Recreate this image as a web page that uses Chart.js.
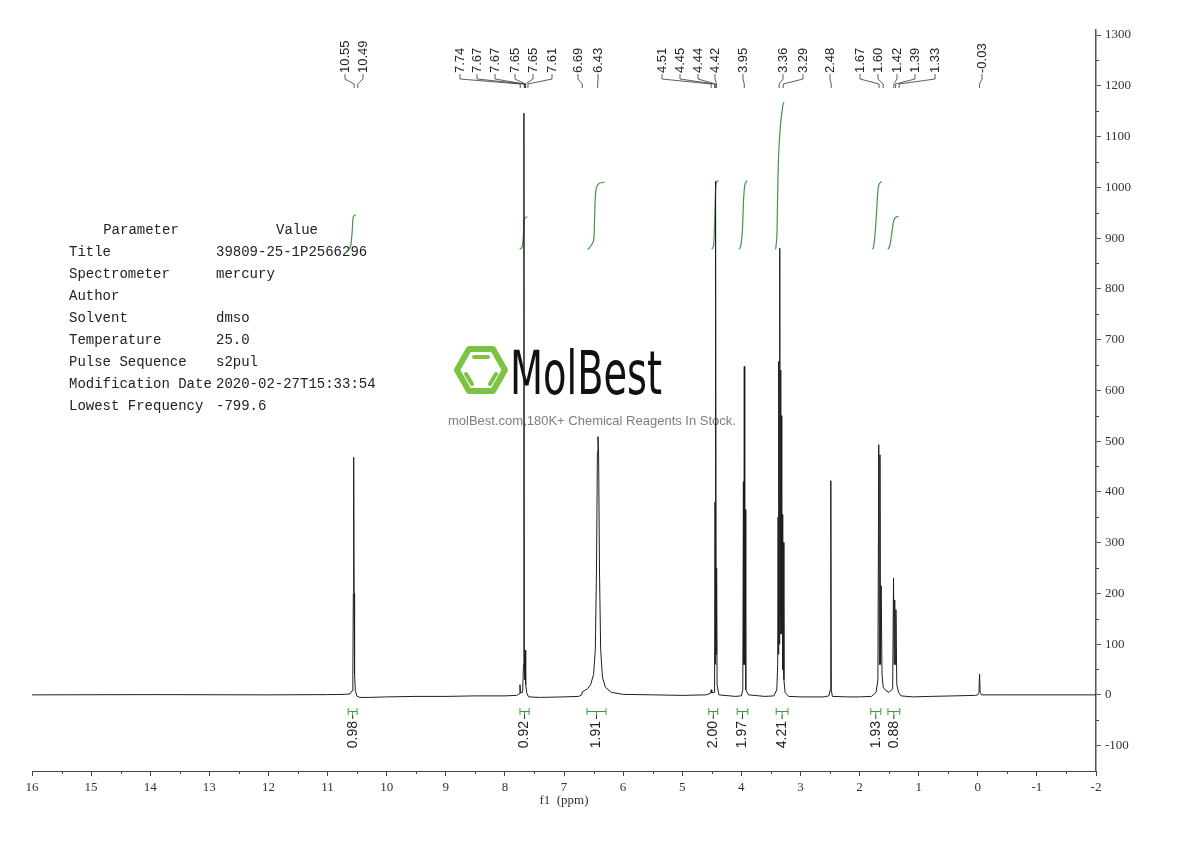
<!DOCTYPE html>
<html>
<head>
<meta charset="utf-8">
<title>1H NMR</title>
<script src="https://cdn.jsdelivr.net/npm/chart.js@4.4.0/dist/chart.umd.min.js"></script>
<style>
  html, body { margin: 0; padding: 0; background: #fff; }
</style>
</head>
<body>
<canvas id="nmrChart" width="1190" height="841"></canvas>
<script>
// spectrum trace: chemical shift (ppm) and intensity
const specPpm = [16.00, 14.00, 12.00, 11.00, 10.70, 10.62, 10.585, 10.572, 10.564, 10.558, 10.551, 10.543, 10.53, 10.50, 10.45, 10.30, 10.00, 9.50, 9.00, 8.50, 8.00, 7.80,
  7.76, 7.745, 7.735, 7.70, 7.685, 7.678, 7.671, 7.662, 7.655, 7.648, 7.63, 7.60, 7.40, 7.00, 6.75, 6.70, 6.69, 6.66, 6.60, 6.55, 6.50, 6.47, 6.45, 6.435, 6.425, 6.415, 6.40, 6.38, 6.35, 6.30, 6.20, 6.00, 5.50, 5.00, 4.60,
  4.52, 4.51, 4.50, 4.46, 4.452, 4.445, 4.44, 4.432, 4.425, 4.418, 4.41, 4.38, 4.10, 4.00, 3.975, 3.965, 3.958, 3.95, 3.942, 3.935, 3.925, 3.88, 3.60, 3.45,
  3.40, 3.385, 3.378, 3.372, 3.365, 3.358, 3.35, 3.343, 3.336, 3.33, 3.323, 3.316, 3.31, 3.30, 3.29, 3.28, 3.26, 3.20, 3.00, 2.60, 2.52, 2.495, 2.486, 2.478, 2.46, 2.20, 2.00, 1.80,
  1.72, 1.69, 1.675, 1.665, 1.655, 1.645, 1.635, 1.62, 1.60, 1.55, 1.50, 1.44, 1.425, 1.415, 1.405, 1.395, 1.385, 1.37, 1.34, 1.30, 1.10, 0.80, 0.40, 0.05, 0.00, -0.02, -0.03, -0.04, -0.06, -0.50, -1.00, -2.00];
const specInt = [0, 0.5, 0, 0.5, 1, 2, 8, 40, 200, 468, 200, 40, 8, -3, -5, -5, -4, -3, -3, -2, -2, -1,
  2, 20, 4, 5, 60, 1146, 80, 30, 88, 20, 4, -4, -5, -4, -3, 0, 6, 8, 12, 20, 40, 90, 250, 480, 509, 480, 250, 90, 35, 15, 5, 1, 0, -1, 0,
  3, 10, 4, 5, 60, 380, 60, 1012, 80, 250, 20, 0, -3, -2, 10, 420, 60, 647, 60, 365, 10, 0, -3, -2,
  10, 60, 350, 80, 657, 100, 880, 120, 640, 150, 550, 120, 355, 50, 300, 30, 5, -3, -4, -4, -2, 10, 422, 10, -3, -4, -4, -3,
  5, 30, 493, 60, 473, 60, 215, 40, 15, 8, 5, 12, 230, 60, 187, 60, 168, 20, 5, -2, -4, -3, -2, -1, 0, 5, 41, 5, 0, 0, 0, 0];

// picked peaks
const peakLabels = ['10.55', '10.49', '7.74', '7.67', '7.67', '7.65', '7.65', '7.61', '6.69', '6.43',
  '4.51', '4.45', '4.44', '4.42', '3.95', '3.36', '3.29', '2.48', '1.67', '1.60', '1.42', '1.39', '1.33', '-0.03'];

// integrals: range (ppm) and value
const integralFrom = [10.65, 7.745, 6.61, 4.55, 4.07, 3.41, 1.81, 1.52];
const integralTo = [10.50, 7.59, 6.29, 4.40, 3.89, 3.21, 1.64, 1.32];
const integralValues = ['0.98', '0.92', '1.91', '2.00', '1.97', '4.21', '1.93', '0.88'];

// integral curves as drawn (ppm, curve level in axis units)
const intCurve1 = [[10.64, 878], [10.61, 884], [10.585, 910], [10.57, 938], [10.555, 944], [10.52, 946]];
const intCurve2 = [[7.75, 878], [7.71, 882], [7.69, 900], [7.675, 930], [7.66, 940], [7.62, 942]];
const intCurve3 = [[6.60, 878], [6.56, 882], [6.50, 895], [6.485, 930], [6.47, 980], [6.45, 1000], [6.40, 1008], [6.31, 1010]];
const intCurve4 = [[4.50, 878], [4.47, 884], [4.455, 920], [4.44, 980], [4.425, 1008], [4.39, 1014]];
const intCurve5 = [[4.04, 878], [4.01, 884], [3.98, 920], [3.96, 980], [3.935, 1008], [3.90, 1013]];
const intCurve6 = [[3.42, 878], [3.40, 900], [3.385, 990], [3.37, 1060], [3.34, 1120], [3.30, 1160], [3.28, 1168]];
const intCurve7 = [[1.78, 878], [1.76, 884], [1.73, 920], [1.70, 975], [1.675, 1005], [1.63, 1012]];
const intCurve8 = [[1.52, 878], [1.49, 884], [1.46, 905], [1.43, 930], [1.40, 940], [1.34, 943]];

// axis ticks
const xTicks = [16, 15, 14, 13, 12, 11, 10, 9, 8, 7, 6, 5, 4, 3, 2, 1, 0, -1, -2];
const xMinorTicks = [15.5, 14.5, 13.5, 12.5, 11.5, 10.5, 9.5, 8.5, 7.5, 6.5, 5.5, 4.5, 3.5, 2.5, 1.5, 0.5, -0.5, -1.5];
const yTicks = [-100, 0, 100, 200, 300, 400, 500, 600, 700, 800, 900, 1000, 1100, 1200, 1300];
const yMinorTicks = [-50, 50, 150, 250, 350, 450, 550, 650, 750, 850, 950, 1050, 1150, 1250];

// acquisition parameters
const paramNames = ['Title', 'Spectrometer', 'Author', 'Solvent', 'Temperature', 'Pulse Sequence', 'Modification Date', 'Lowest Frequency'];
const paramValues = ['39809-25-1P2566296', 'mercury', '', 'dmso', '25.0', 's2pul', '2020-02-27T15:33:54', '-799.6'];

// layout only: where each peak label sits (canvas x)
const peakLabelX = [345, 363, 460, 477, 495, 515, 533, 552, 578, 598, 662, 680, 698, 715, 743, 783, 803, 830, 860, 878, 897, 915, 935, 982];

const GREEN = '#3f9a45';
const serif = '"Liberation Serif", "DejaVu Serif", serif';
const mono = '"Liberation Mono", "DejaVu Sans Mono", monospace';
const sans = '"Liberation Sans", Arial, sans-serif';

const toPoints = pairs => pairs.map(p => ({ x: p[0], y: p[1] }));
const spectrum = specPpm.map((v, i) => ({ x: v, y: specInt[i] }));

function drawWatermark(ctx) {
    ctx.save();
    // hexagon logo
    ctx.strokeStyle = '#7cc243';
    ctx.lineWidth = 6;
    ctx.lineJoin = 'round';
    ctx.lineCap = 'round';
    ctx.beginPath();
    ctx.moveTo(457, 370);
    ctx.lineTo(469, 349);
    ctx.lineTo(493, 349);
    ctx.lineTo(505, 370);
    ctx.lineTo(493, 391);
    ctx.lineTo(469, 391);
    ctx.closePath();
    ctx.stroke();
    ctx.lineWidth = 4;
    ctx.beginPath();
    ctx.moveTo(474, 357); ctx.lineTo(488, 357);
    ctx.moveTo(466, 374); ctx.lineTo(472, 384);
    ctx.moveTo(496, 374); ctx.lineTo(490, 384);
    ctx.stroke();

    // brand name, squeezed to the logo width
    ctx.fillStyle = '#111';
    ctx.font = '60px "DejaVu Sans Condensed", "DejaVu Sans", sans-serif';
    ctx.textBaseline = 'alphabetic';
    const w = ctx.measureText('MolBest').width;
    ctx.translate(510, 394);
    ctx.scale(152 / w, 1);
    ctx.fillText('MolBest', 0, 0);
    ctx.restore();

    ctx.save();
    ctx.fillStyle = '#7d7d7d';
    ctx.font = '13px ' + sans;
    ctx.textBaseline = 'middle';
    ctx.fillText('molBest.com,180K+ Chemical Reagents In Stock.', 448, 421);
    ctx.restore();
}

function drawParams(ctx) {
    ctx.save();
    ctx.fillStyle = '#222';
    ctx.font = '14px ' + mono;
    ctx.textBaseline = 'middle';
    ctx.textAlign = 'center';
    ctx.fillText('Parameter', 141, 230);
    ctx.fillText('Value', 297, 230);
    ctx.textAlign = 'left';
    paramNames.forEach((name, i) => {
        const y = 252 + i * 22;
        ctx.fillText(name, 69, y);
        ctx.fillText(paramValues[i], 216, y);
    });
    ctx.restore();
}

const nmrDecor = {
    id: 'nmrDecor',
    beforeDatasetsDraw(chart) {
        drawWatermark(chart.ctx);
        drawParams(chart.ctx);
    },
    afterDraw(chart) {
        const ctx = chart.ctx;
        const xs = chart.scales.x;
        const ys = chart.scales.y;
        const area = chart.chartArea;

        ctx.save();
        // minor ticks
        ctx.strokeStyle = '#444';
        ctx.lineWidth = 1;
        ctx.beginPath();
        xMinorTicks.forEach(v => {
            const px = Math.round(xs.getPixelForValue(v)) + 0.5;
            ctx.moveTo(px, area.bottom);
            ctx.lineTo(px, area.bottom + 3);
        });
        yMinorTicks.forEach(v => {
            const py = Math.round(ys.getPixelForValue(v)) + 0.5;
            ctx.moveTo(area.right, py);
            ctx.lineTo(area.right + 3, py);
        });
        ctx.stroke();

        // axis title
        ctx.fillStyle = '#333';
        ctx.font = '13px ' + serif;
        ctx.textAlign = 'center';
        ctx.textBaseline = 'middle';
        ctx.fillText('f1  (ppm)', (area.left + area.right) / 2, 801);

        // peak labels with leader lines
        ctx.font = '13px ' + sans;
        ctx.fillStyle = '#222';
        ctx.strokeStyle = '#333';
        ctx.lineWidth = 0.8;
        peakLabels.forEach((txt, i) => {
            const lx = peakLabelX[i];
            const px = xs.getPixelForValue(parseFloat(txt));
            ctx.beginPath();
            ctx.moveTo(lx, 74);
            ctx.lineTo(lx, 79);
            ctx.lineTo(px, 84);
            ctx.lineTo(px, 88);
            ctx.stroke();
            ctx.save();
            ctx.translate(lx, 73);
            ctx.rotate(-Math.PI / 2);
            ctx.textAlign = 'left';
            ctx.textBaseline = 'middle';
            ctx.fillText(txt, 0, 0);
            ctx.restore();
        });

        // integral brackets and values
        ctx.font = '14px ' + sans;
        integralValues.forEach((txt, i) => {
            const x0 = xs.getPixelForValue(integralFrom[i]);
            const x1 = xs.getPixelForValue(integralTo[i]);
            const cx = (x0 + x1) / 2;
            ctx.strokeStyle = GREEN;
            ctx.lineWidth = 1;
            ctx.beginPath();
            ctx.moveTo(x0, 711.5); ctx.lineTo(x1, 711.5);
            ctx.moveTo(x0, 708); ctx.lineTo(x0, 715);
            ctx.moveTo(x1, 708); ctx.lineTo(x1, 715);
            ctx.moveTo(cx, 711.5); ctx.lineTo(cx, 715);
            ctx.stroke();
            ctx.strokeStyle = '#333';
            ctx.beginPath();
            ctx.moveTo(cx, 715); ctx.lineTo(cx, 719);
            ctx.stroke();
            ctx.save();
            ctx.translate(cx, 721);
            ctx.rotate(-Math.PI / 2);
            ctx.textAlign = 'right';
            ctx.textBaseline = 'middle';
            ctx.fillStyle = '#222';
            ctx.fillText(txt, 0, 0);
            ctx.restore();
        });
        ctx.restore();
    }
};

const intStyle = { showLine: true, borderColor: GREEN, borderWidth: 1.2, pointRadius: 0, tension: 0.3 };

const chart = new Chart(document.getElementById('nmrChart').getContext('2d'), {
    type: 'scatter',
    data: {
        datasets: [
            { data: spectrum, showLine: true, borderColor: '#1e1e1e', borderWidth: 1, pointRadius: 0, tension: 0 },
            Object.assign({ data: toPoints(intCurve1) }, intStyle),
            Object.assign({ data: toPoints(intCurve2) }, intStyle),
            Object.assign({ data: toPoints(intCurve3) }, intStyle),
            Object.assign({ data: toPoints(intCurve4) }, intStyle),
            Object.assign({ data: toPoints(intCurve5) }, intStyle),
            Object.assign({ data: toPoints(intCurve6) }, intStyle),
            Object.assign({ data: toPoints(intCurve7) }, intStyle),
            Object.assign({ data: toPoints(intCurve8) }, intStyle)
        ]
    },
    options: {
        responsive: false,
        animation: false,
        layout: { padding: { left: 32, top: 30, right: 0, bottom: 0 } },
        plugins: { legend: { display: false }, tooltip: { enabled: false } },
        scales: {
            x: {
                type: 'linear',
                reverse: true,
                min: -2,
                max: 16,
                position: 'bottom',
                afterBuildTicks: s => { s.ticks = xTicks.map(v => ({ value: v })); },
                afterFit: s => { s.height = 70; },
                grid: { display: true, drawOnChartArea: false, drawTicks: true, tickLength: 5, color: '#444' },
                border: { display: true, color: '#444', width: 1 },
                ticks: { padding: 4, color: '#333', font: { family: serif, size: 13 }, maxRotation: 0, autoSkip: false, callback: v => String(v) }
            },
            y: {
                type: 'linear',
                position: 'right',
                min: -150,
                max: 1310,
                afterBuildTicks: s => { s.ticks = yTicks.map(v => ({ value: v })); },
                afterFit: s => { s.width = 94; },
                grid: { display: true, drawOnChartArea: false, drawTicks: true, tickLength: 5, color: '#555' },
                border: { display: true, color: '#555', width: 1.5 },
                ticks: { padding: 4, color: '#333', font: { family: serif, size: 13 }, autoSkip: false, callback: v => String(v) }
            }
        }
    },
    plugins: [nmrDecor]
});
</script>
</body>
</html>
